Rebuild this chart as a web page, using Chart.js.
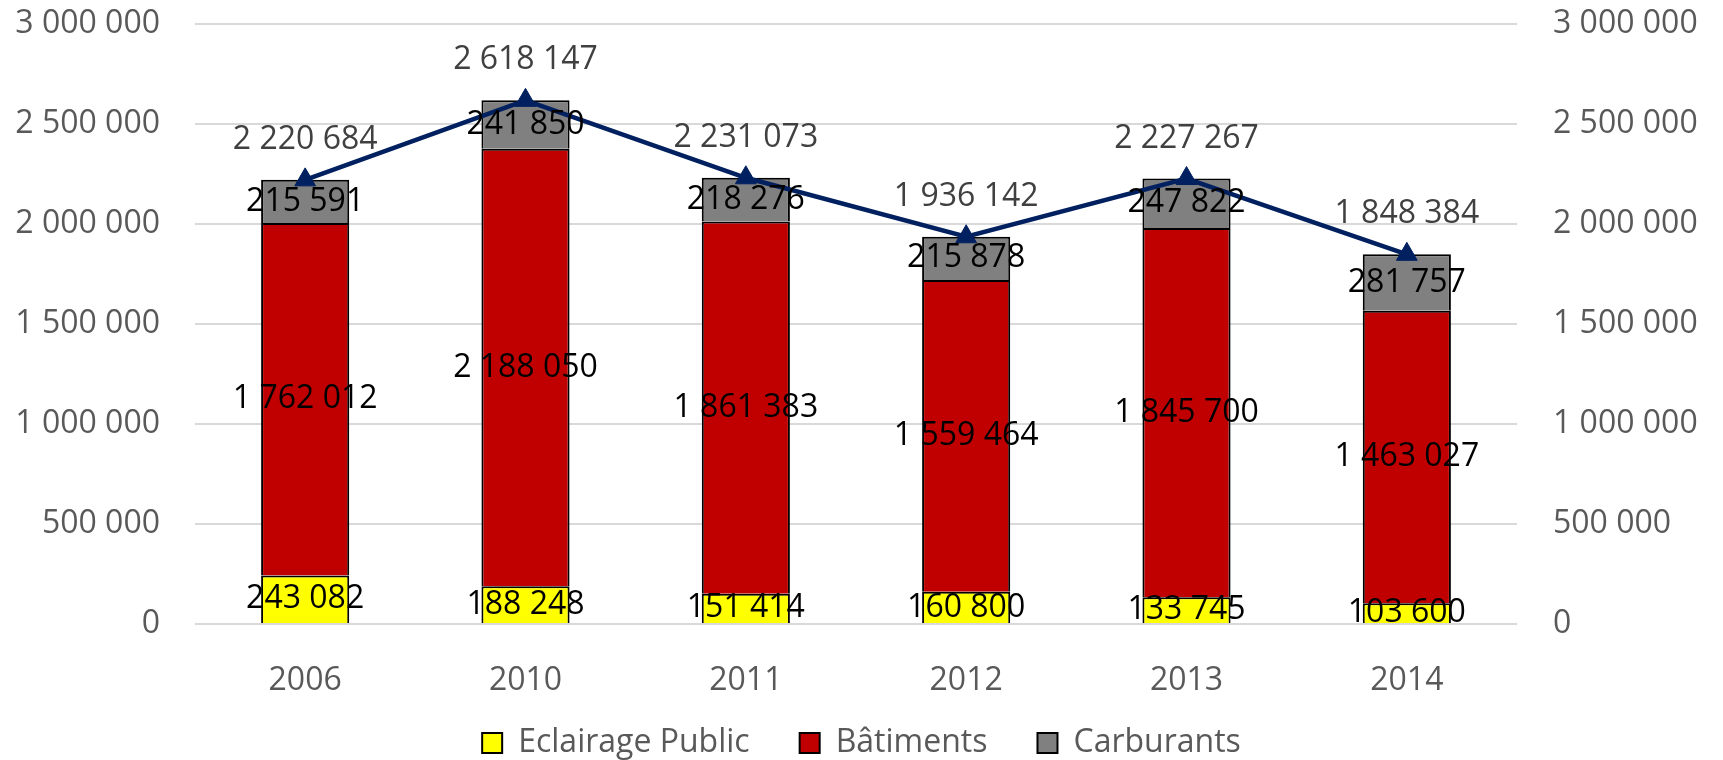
<!DOCTYPE html>
<html>
<head>
<meta charset="utf-8">
<script src="https://cdn.jsdelivr.net/npm/chart.js@4"></script>
<style>
    html, body { margin: 0; padding: 0; background: #fff; }
    #wrap { width: 1723px; height: 760px; }
</style>
</head>
<body>
<div id="wrap"><canvas id="chart" width="1723" height="760"></canvas></div>
<script>
// ----- DATA -----
const years = ['2006', '2010', '2011', '2012', '2013', '2014'];
const eclairage = [243082, 188248, 151414, 160800, 133745, 103600];
const batiments = [1762012, 2188050, 1861383, 1559464, 1845700, 1463027];
const carburants = [215591, 241850, 218276, 215878, 247822, 281757];
const totals = [2220684, 2618147, 2231073, 1936142, 2227267, 1848384];

const FONT = "'Open Sans', sans-serif";

function fmt(n) {
    return String(Math.round(n)).replace(/\B(?=(\d{3})+(?!\d))/g, ' ');
}

// value labels + a bit of legend placement
const valueLabels = {
    id: 'valueLabels',
    afterInit(chart) {
        // keep wide gaps between legend items but a short legend box
        const legend = chart.legend;
        if (legend) {
            const fit = legend.fit;
            legend.fit = function () {
                fit.call(this);
                this.height = 66;
            };
        }
    },
    afterLayout(chart) {
        const legend = chart.legend;
        if (legend) {
            legend.top = 677;
            legend.bottom = 760;
        }
    },
    afterDatasetsDraw(chart) {
        const ctx = chart.ctx;
        ctx.save();
        ctx.font = '32px ' + FONT;
        ctx.textAlign = 'center';
        ctx.textBaseline = 'middle';
        chart.data.datasets.forEach((ds, i) => {
            const meta = chart.getDatasetMeta(i);
            meta.data.forEach((el, j) => {
                if (ds.type === 'line') {
                    ctx.fillStyle = '#404040';
                    ctx.fillText(fmt(ds.data[j]), el.x, el.y - 40);
                } else {
                    ctx.fillStyle = '#000000';
                    ctx.fillText(fmt(ds.data[j]), el.x, (el.y + el.base) / 2);
                }
            });
        });
        ctx.restore();
    }
};

const barStyle = { borderColor: '#000000', borderWidth: 2, barPercentage: 0.4, categoryPercentage: 1, order: 1 };

new Chart(document.getElementById('chart'), {
    data: {
        labels: years,
        datasets: [
            { type: 'bar', label: 'Eclairage Public', data: eclairage, backgroundColor: '#ffff00', ...barStyle },
            { type: 'bar', label: 'Bâtiments', data: batiments, backgroundColor: '#c00000', ...barStyle },
            { type: 'bar', label: 'Carburants', data: carburants, backgroundColor: '#808080', ...barStyle },
            {
                type: 'line', label: 'Total', data: totals, yAxisID: 'y2', order: 0,
                borderColor: '#002060', borderWidth: 4.5, backgroundColor: '#002060',
                pointStyle: 'triangle', pointRadius: 12, pointBorderWidth: 1, pointBorderColor: '#002060'
            }
        ]
    },
    options: {
        responsive: false,
        animation: false,
        layout: { padding: { top: 24, left: 0, right: 0, bottom: 0 } },
        scales: {
            x: {
                stacked: true,
                grid: { display: false },
                border: { display: false },
                ticks: { color: '#595959', font: { family: FONT, size: 32 }, padding: 30 },
                afterFit(scale) { scale.height = 70; }
            },
            y: {
                stacked: true,
                position: 'left',
                min: 0, max: 3000000,
                grid: { color: '#d9d9d9', lineWidth: 2, drawTicks: false },
                border: { display: false },
                ticks: { stepSize: 500000, color: '#595959', font: { family: FONT, size: 32 }, padding: 35, callback: v => fmt(v) },
                afterFit(scale) { scale.width = 195; scale.paddingTop = 0; scale.paddingBottom = 0; }
            },
            y2: {
                position: 'right',
                min: 0, max: 3000000,
                grid: { display: false, drawTicks: false },
                border: { display: false },
                ticks: { stepSize: 500000, color: '#595959', font: { family: FONT, size: 32 }, padding: 36, callback: v => fmt(v) },
                afterFit(scale) { scale.width = 206; scale.paddingTop = 0; scale.paddingBottom = 0; }
            }
        },
        plugins: {
            tooltip: { enabled: false },
            legend: {
                position: 'bottom',
                labels: {
                    color: '#595959',
                    font: { family: FONT, size: 32 },
                    boxWidth: 20, boxHeight: 20,
                    padding: 50,
                    filter: item => item.text !== 'Total'
                }
            }
        }
    },
    plugins: [valueLabels]
});
</script>
</body>
</html>
